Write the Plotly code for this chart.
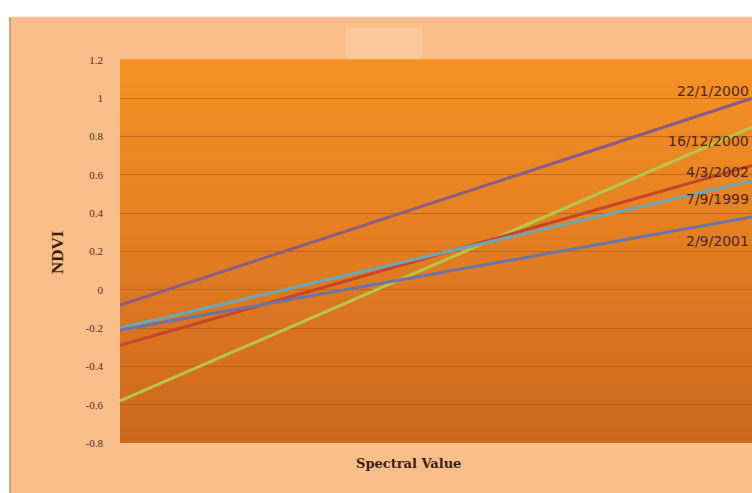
import plotly.graph_objects as go

# Series: acquisition dates and NDVI at the two ends of the spectral axis
dates = ["22/1/2000", "16/12/2000", "4/3/2002", "7/9/1999", "2/9/2001"]
ndvi_start = [-0.08, -0.58, -0.29, -0.20, -0.21]
ndvi_end = [1.00, 0.85, 0.65, 0.57, 0.38]
spectral = [0, 1]

y_ticks = [1.2, 1.0, 0.8, 0.6, 0.4, 0.2, 0.0, -0.2, -0.4, -0.6, -0.8]
y_tick_text = ["1.2", "1", "0.8", "0.6", "0.4", "0.2", "0", "-0.2", "-0.4", "-0.6", "-0.8"]

line_colors = ["#8C5B86", "#B9C44C", "#C8452A", "#6FA6B4", "#6B74A6"]
label_shift = [7, -14, -7, -18, -24]

W, H = 752, 493
ML, MR, MT, MB = 120, 0, 60, 50
plot_w = W - ML - MR
plot_h = H - MT - MB


def px_to_paper_x(px):
    return (px - ML) / plot_w


def px_to_paper_y(py):
    return (H - MB - py) / plot_h


fig = go.Figure()

for name, y0, y1, col in zip(dates, ndvi_start, ndvi_end, line_colors):
    fig.add_trace(go.Scatter(
        x=spectral, y=[y0, y1], mode="lines", name=name,
        line=dict(color=col, width=3), showlegend=False, hoverinfo="skip",
    ))

shapes = []
# White page margin with a thin frame edge
shapes.append(dict(type="rect", xref="paper", yref="paper",
                   x0=px_to_paper_x(0), x1=px_to_paper_x(W), y0=px_to_paper_y(17), y1=px_to_paper_y(0),
                   fillcolor="white", line=dict(width=0), layer="below"))
shapes.append(dict(type="rect", xref="paper", yref="paper",
                   x0=px_to_paper_x(0), x1=px_to_paper_x(9), y0=px_to_paper_y(H), y1=px_to_paper_y(0),
                   fillcolor="white", line=dict(width=0), layer="below"))
shapes.append(dict(type="line", xref="paper", yref="paper",
                   x0=px_to_paper_x(10), x1=px_to_paper_x(10), y0=px_to_paper_y(H), y1=px_to_paper_y(17),
                   line=dict(color="#C9A384", width=2), layer="below"))
shapes.append(dict(type="line", xref="paper", yref="paper",
                   x0=px_to_paper_x(10), x1=px_to_paper_x(W), y0=px_to_paper_y(17), y1=px_to_paper_y(17),
                   line=dict(color="#E9D6C2", width=1), layer="below"))
# Empty title box
shapes.append(dict(type="rect", xref="paper", yref="paper",
                   x0=px_to_paper_x(346), x1=px_to_paper_x(422), y0=px_to_paper_y(60), y1=px_to_paper_y(28),
                   fillcolor="#FBC99B", line=dict(width=0), layer="below"))

# Vertical orange gradient for the plotting area
n_bands = 80
top = (246, 146, 36)
bottom = (204, 104, 30)
for i in range(n_bands):
    t = i / (n_bands - 1)
    r = round(top[0] + (bottom[0] - top[0]) * t)
    g = round(top[1] + (bottom[1] - top[1]) * t)
    b = round(top[2] + (bottom[2] - top[2]) * t)
    shapes.append(dict(type="rect", xref="paper", yref="paper",
                       x0=0, x1=1, y0=1 - (i + 1) / n_bands, y1=1 - i / n_bands + 0.002,
                       fillcolor=f"rgb({r},{g},{b})", line=dict(width=0), layer="below"))

annotations = []
for name, y1, col, dy in zip(dates, ndvi_end, line_colors, label_shift):
    annotations.append(dict(
        x=spectral[-1], y=y1, xref="x", yref="y", text=name, showarrow=False,
        xanchor="right", yanchor="middle", xshift=-1, yshift=dy,
        font=dict(family="DejaVu Sans", size=14, color="#4E2416"),
    ))
annotations.append(dict(
    x=px_to_paper_x(408), y=px_to_paper_y(463), xref="paper", yref="paper",
    text="<b>Spectral Value</b>", showarrow=False, xanchor="center", yanchor="middle",
    font=dict(family="DejaVu Serif", size=13, color="#3A1E14"),
))
annotations.append(dict(
    x=px_to_paper_x(57), y=px_to_paper_y(252), xref="paper", yref="paper",
    text="<b>NDVI</b>", showarrow=False, textangle=-90, xanchor="center", yanchor="middle",
    font=dict(family="Liberation Serif", size=17, color="#3A1E14"),
))

fig.update_layout(
    width=W, height=H,
    margin=dict(l=ML, r=MR, t=MT, b=MB),
    paper_bgcolor="#F9BE8A",
    plot_bgcolor="rgba(0,0,0,0)",
    shapes=shapes,
    annotations=annotations,
    xaxis=dict(range=[0, 1], showticklabels=False, showgrid=False, zeroline=False,
               showline=False, ticks=""),
    yaxis=dict(range=[-0.8, 1.2], tickvals=y_ticks, ticktext=y_tick_text,
               showgrid=True, gridcolor="rgba(165,78,20,0.55)", gridwidth=1,
               zeroline=False, showline=False, ticks="", ticklabelstandoff=16,
               tickfont=dict(family="Liberation Serif", size=11, color="#4A3228")),
)

fig.write_html("out.html")
